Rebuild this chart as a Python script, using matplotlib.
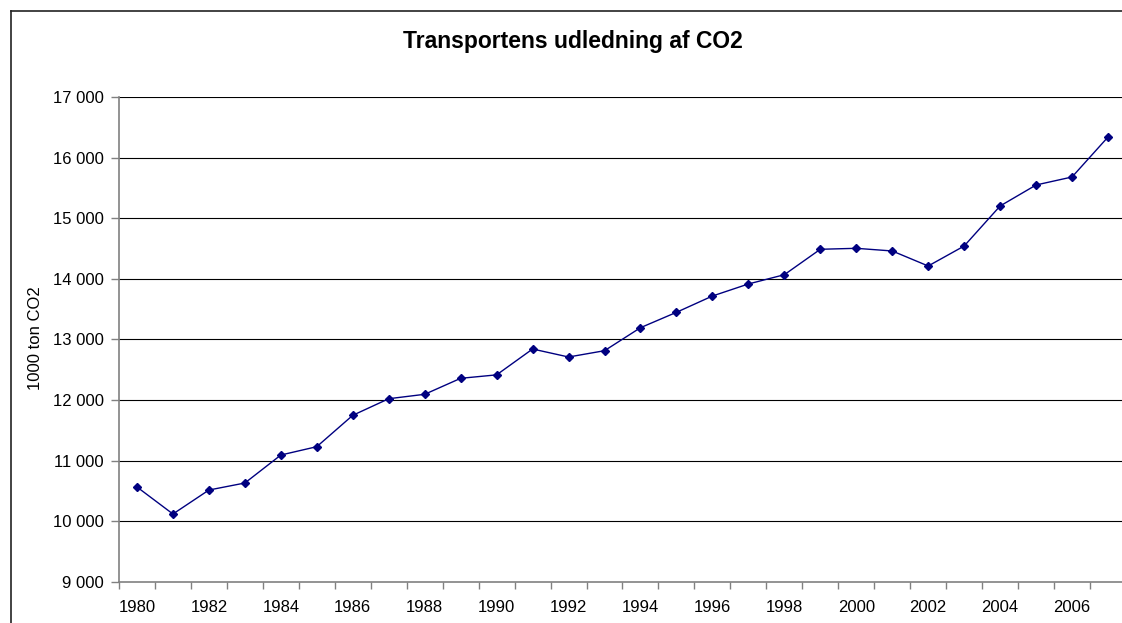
import matplotlib
matplotlib.use("Agg")
import matplotlib.pyplot as plt
from matplotlib.lines import Line2D
from matplotlib.ticker import FuncFormatter, FixedLocator

plt.rcParams['font.family'] = ['Liberation Sans', 'DejaVu Sans']

years = list(range(1980, 2008))
emissions = [10564, 10118, 10514, 10630, 11092, 11230, 11748, 12022, 12095, 12359,
             12416, 12843, 12711, 12815, 13195, 13449, 13718, 13917, 14070, 14490,
             14506, 14462, 14214, 14544, 15205, 15552, 15684, 16344]
title = "Transportens udledning af CO2"
ylabel = "1000 ton CO2"
yticks = [9000, 10000, 11000, 12000, 13000, 14000, 15000, 16000, 17000]

W, H = 1122, 623
fig = plt.figure(figsize=(W / 100, H / 100), dpi=100)
fig.patch.set_facecolor('white')

# axes: left 119px, right ~1126px (cropped), top 97.3px, bottom 581.7px
ax_l, ax_r, ax_t, ax_b = 119, 1126, 97.3, 581.7
ax = fig.add_axes([ax_l / W, (H - ax_b) / H, (ax_r - ax_l) / W, (ax_b - ax_t) / H])

x = list(range(len(years)))
ax.plot(x, emissions, color='#000080', lw=1.0, marker='D', markersize=4,
        markerfacecolor='#000080', markeredgecolor='#000080', zorder=3)

ax.set_xlim(-0.5, len(years) - 0.5)
ax.set_ylim(9000, 17000)

# y axis
ax.yaxis.set_major_locator(FixedLocator(yticks))
ax.yaxis.set_major_formatter(FuncFormatter(lambda v, p: f"{int(v):,}".replace(",", " ")))
ax.tick_params(axis='y', direction='out', length=6, width=1, color='#808080',
               labelsize=12, pad=5)
for yv in yticks[1:]:
    ax.axhline(yv, color='black', lw=0.8, zorder=1)

# x axis: ticks between categories, labels on every other category
ax.xaxis.set_major_locator(FixedLocator([i - 0.5 for i in range(len(years) + 1)]))
ax.xaxis.set_major_formatter(FuncFormatter(lambda v, p: ""))
ax.xaxis.set_minor_locator(FixedLocator([i for i in x if years[i] % 2 == 0]))
ax.xaxis.set_minor_formatter(FuncFormatter(lambda v, p: str(years[int(round(v))])))
ax.tick_params(axis='x', which='major', direction='out', length=5, width=1, color='#808080')
ax.tick_params(axis='x', which='minor', length=0, labelsize=12, pad=13.5)

for s in ['top', 'right']:
    ax.spines[s].set_visible(False)
for s in ['left', 'bottom']:
    ax.spines[s].set_color('#808080')
    ax.spines[s].set_linewidth(1.2)

ax.set_ylabel(ylabel, fontsize=12)
ax.yaxis.set_label_coords((43 - ax_l) / (ax_r - ax_l), (ax_b - 338) / (ax_b - ax_t))

fig.text(573 / W, 1 - 41.5 / H, title, ha='center', va='center',
         fontsize=16.5, fontweight='bold')

# outer chart border (cropped at right and bottom)
fig.add_artist(Line2D([10.5 / W, 10.5 / W], [0, 1 - 10.5 / H], color='#222222', lw=1.2,
                      transform=fig.transFigure))
fig.add_artist(Line2D([10.5 / W, 1], [1 - 10.5 / H, 1 - 10.5 / H], color='#222222', lw=1.2,
                      transform=fig.transFigure))

fig.savefig("out.png", dpi=100)
